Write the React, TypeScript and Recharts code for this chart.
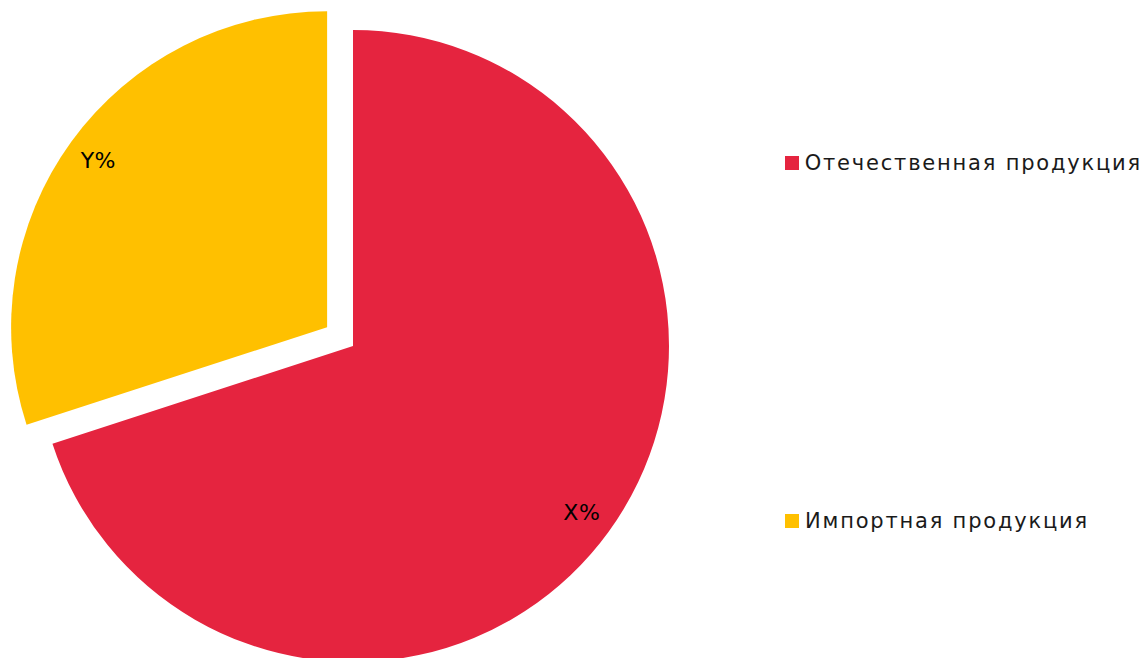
import React from 'react';
import { PieChart, Pie, Cell, Legend } from 'recharts';

const categories = ['Отечественная продукция', 'Импортная продукция'];
const shares = [70, 30];
const sliceLabels = ['X%', 'Y%'];
const colors = ['#E5243F', '#FFC000'];

const RAD = Math.PI / 180;
const CX = 353;
const CY = 346;
const R = 316;
const EXPLODE = 32;

const data = categories.map((name, i) => ({ name, value: shares[i], label: sliceLabels[i] }));

// offset of the exploded (second) slice along its mid angle
const total = shares.reduce((a, b) => a + b, 0);
const midYellow = 90 - (360 * (shares[0] + shares[1] / 2)) / total;
const CX2 = CX + EXPLODE * Math.cos(midYellow * RAD);
const CY2 = CY - EXPLODE * Math.sin(midYellow * RAD);

const font = '"DejaVu Sans", sans-serif';

function makeLabel(visibleIndex: number) {
  return (props: any) => {
    const { cx, cy, midAngle, outerRadius, index } = props;
    if (index !== visibleIndex) return null;
    const r = outerRadius * 0.895;
    const x = cx + r * Math.cos(-midAngle * RAD);
    const y = cy + r * Math.sin(-midAngle * RAD);
    return (
      <text x={x} y={y} fill="#000" textAnchor="middle" dominantBaseline="central" fontSize={22} fontFamily={font} letterSpacing={0.5}>
        {data[index].label}
      </text>
    );
  };
}

function LegendBox() {
  return (
    <div style={{ fontFamily: font }}>
      {categories.map((c, i) => (
        <div key={c} style={{ display: 'flex', alignItems: 'center', height: 30, marginBottom: i === 0 ? 328 : 0 }}>
          <span style={{ width: 14, height: 14, background: colors[i], marginRight: 6, display: 'inline-block' }} />
          <span style={{ fontSize: 21, color: '#1a1a1a', letterSpacing: 1.8, whiteSpace: 'nowrap' }}>{c}</span>
        </div>
      ))}
    </div>
  );
}

export default function App() {
  return (
    <div style={{ position: 'absolute', left: 0, top: 0, width: 1142, height: 658, background: '#fff' }}>
      <PieChart width={1142} height={658} margin={{ top: 0, right: 0, bottom: 0, left: 0 }}>
        <Pie
          data={data}
          dataKey="value"
          cx={CX}
          cy={CY}
          outerRadius={R}
          startAngle={90}
          endAngle={-270}
          stroke="none"
          label={makeLabel(0)}
          labelLine={false}
          isAnimationActive={false}
        >
          {data.map((d, i) => (
            <Cell key={d.name} fill={i === 0 ? colors[0] : 'none'} />
          ))}
        </Pie>
        <Pie
          data={data}
          dataKey="value"
          cx={CX2}
          cy={CY2}
          outerRadius={R}
          startAngle={90}
          endAngle={-270}
          stroke="none"
          label={makeLabel(1)}
          labelLine={false}
          isAnimationActive={false}
        >
          {data.map((d, i) => (
            <Cell key={d.name} fill={i === 1 ? colors[1] : 'none'} />
          ))}
        </Pie>
        <Legend
          content={() => <LegendBox />}
          wrapperStyle={{ position: 'absolute', left: 785, top: 148, width: 357 }}
        />
      </PieChart>
    </div>
  );
}
